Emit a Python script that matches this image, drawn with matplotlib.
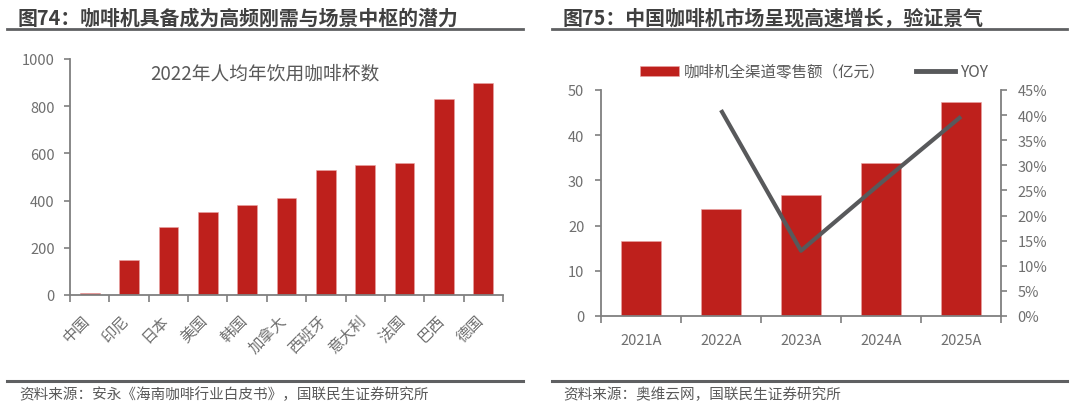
import numpy as np
import matplotlib
matplotlib.use('Agg')
import matplotlib.pyplot as plt
import matplotlib.transforms as mtrans
from matplotlib.lines import Line2D
from matplotlib.patches import Patch
from matplotlib.ticker import FuncFormatter

plt.rcParams['font.family'] = ['Noto Sans CJK SC', 'DejaVu Sans']
plt.rcParams['axes.unicode_minus'] = False

# ================= 数据 =================
countries = ['中国', '印尼', '日本', '美国', '韩国', '加拿大', '西班牙', '意大利', '法国', '巴西', '德国']
cups_2022 = [8, 148, 290, 350, 380, 410, 530, 550, 560, 830, 900]

years = ['2021A', '2022A', '2023A', '2024A', '2025A']
sales = [16.7, 23.6, 26.8, 33.9, 47.4]
yoy_years = ['2022A', '2023A', '2024A', '2025A']
yoy = [0.41, 0.13, 0.265, 0.397]

RED = '#BE201C'
GRAY_LINE = '#58595B'
TICK_C = '#6F6F6F'
AXIS_C = '#7F7F7F'
TITLE_C = '#404040'

W, H = 1080, 410
fig = plt.figure(figsize=(W / 100, H / 100), dpi=100)


def box(x0, y0, x1, y1):
    # 像素坐标 -> figure 坐标
    return [x0 / W, 1 - y1 / H, (x1 - x0) / W, (y1 - y0) / H]


def hline(x0, x1, y, lw=2.0):
    fig.add_artist(Line2D([x0 / W, x1 / W], [1 - y / H, 1 - y / H],
                          color='#5F6062', lw=lw, transform=fig.transFigure))


def style_axis(ax):
    for s in ['top', 'right']:
        ax.spines[s].set_visible(False)
    for s in ['left', 'bottom']:
        ax.spines[s].set_color(AXIS_C)
        ax.spines[s].set_linewidth(1.3)
    ax.tick_params(axis='y', colors=AXIS_C, labelcolor=TICK_C, length=4, width=1.2,
                   pad=7, labelsize=10.5)


# ================= 标题与分隔线 =================
fig.text(18 / W, 1 - 18 / H, '图74：咖啡机具备成为高频刚需与场景中枢的潜力',
         fontsize=14.3, fontweight='bold', color=TITLE_C, va='center', ha='left')
fig.text(563 / W, 1 - 18 / H, '图75：中国咖啡机市场呈现高速增长，验证景气',
         fontsize=14.3, fontweight='bold', color=TITLE_C, va='center', ha='left')
hline(7, 523, 29.5)
hline(552, 1067, 29.5)
hline(7, 523, 382, lw=2.2)
hline(552, 1067, 382, lw=2.2)
fig.text(19 / W, 1 - 395 / H, '资料来源：安永《海南咖啡行业白皮书》，国联民生证券研究所',
         fontsize=10.5, color='#595959', va='center', ha='left')
fig.text(563 / W, 1 - 395 / H, '资料来源：奥维云网，国联民生证券研究所',
         fontsize=10.5, color='#595959', va='center', ha='left')

# ================= 左图：人均饮用杯数 =================
ax1 = fig.add_axes(box(70, 60, 503, 296))
x1 = np.arange(len(countries))
ax1.bar(x1, cups_2022, width=0.5, color=RED, edgecolor='#E9A3A3', linewidth=0.4)
ax1.set_xlim(-0.5, len(countries) - 0.5)
ax1.set_ylim(0, 1000)
ax1.set_yticks(np.arange(0, 1001, 200))
style_axis(ax1)
ax1.set_xticks(x1)
ax1.set_xticklabels(countries, rotation=45, ha='right', rotation_mode='anchor',
                    fontsize=11, color=TICK_C)
ax1.set_xticks(np.arange(-0.5, len(countries)), minor=True)
ax1.tick_params(axis='x', which='major', length=0, pad=12)
ax1.tick_params(axis='x', which='minor', length=5, width=1.2, color=AXIS_C)
shift = mtrans.ScaledTranslation(-6 / 72, 0, fig.dpi_scale_trans)
for lab in ax1.get_xticklabels():
    lab.set_transform(lab.get_transform() + shift)
ax1.text(0.45, 0.94, '2022年人均年饮用咖啡杯数', transform=ax1.transAxes,
         ha='center', va='center', fontsize=13.5, color='#595959')

# ================= 右图：零售额与同比 =================
ax2 = fig.add_axes(box(601, 91, 1001, 317))
x2 = np.arange(len(years))
ax2.bar(x2, sales, width=0.5, color=RED, edgecolor='#E9A3A3', linewidth=0.4)
ax2.set_xlim(-0.5, len(years) - 0.5)
ax2.set_ylim(0, 50)
ax2.set_yticks(np.arange(0, 51, 10))
style_axis(ax2)
ax2.tick_params(axis='y', pad=8)
ax2.set_xticks(x2)
ax2.set_xticklabels(years, fontsize=10.5, color=TICK_C)
ax2.set_xticks(np.arange(-0.5, len(years)), minor=True)
ax2.tick_params(axis='x', which='major', length=0, pad=12)
ax2.tick_params(axis='x', which='minor', length=5, width=1.2, color=AXIS_C)

ax3 = ax2.twinx()
yoy_x = [years.index(y) for y in yoy_years]
ax3.plot(yoy_x, yoy, color=GRAY_LINE, lw=3.0, solid_capstyle='butt')
ax3.set_ylim(0, 0.45)
ax3.set_yticks(np.arange(0, 0.451, 0.05))
ax3.yaxis.set_major_formatter(FuncFormatter(lambda v, p: f'{v * 100:.0f}%'))
for s in ['top', 'left', 'bottom']:
    ax3.spines[s].set_visible(False)
ax3.spines['right'].set_color(AXIS_C)
ax3.spines['right'].set_linewidth(1.3)
ax3.tick_params(axis='y', colors=AXIS_C, labelcolor=TICK_C, length=4, width=1.2,
                pad=8, labelsize=10.5)

handles = [Patch(facecolor=RED, edgecolor='#E9A3A3', linewidth=0.4),
           Line2D([0], [0], color=GRAY_LINE, lw=3.5)]
fig.legend(handles, ['咖啡机全渠道零售额（亿元）', 'YOY'], loc='center',
           bbox_to_anchor=(814 / W, 1 - 73 / H), ncol=2, frameon=False,
           fontsize=11.2, labelcolor='#595959', handlelength=2.5, handleheight=0.55,
           handletextpad=0.3, columnspacing=2.0)

fig.savefig('out.png', dpi=100)
